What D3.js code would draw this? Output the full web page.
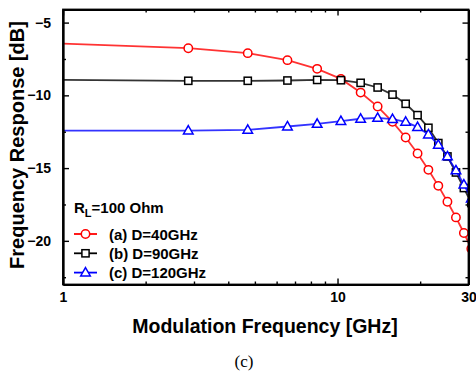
<!DOCTYPE html>
<html>
<head>
<meta charset="utf-8">
<script src="https://cdn.jsdelivr.net/npm/d3@7"></script>
<style>
  body { margin: 0; background: #fff; }
  svg { display: block; }
  .tk text { font-family: Arial, "Liberation Sans", sans-serif; font-weight: bold; font-size: 14px; fill: #000; }
  .tk path, .tk line { stroke: #000; }
</style>
</head>
<body>
<svg id="chart" width="476" height="375"></svg>
<script>
// modulation frequency in GHz (sampled every ~1.86 GHz)
let freq = [1, 2.86, 4.71, 6.57, 8.43, 10.29, 12.14, 14, 15.86, 17.71, 19.57, 21.43, 23.29, 25.14, 27, 28.86, 30.71];

// response in dB
let respA = [-6.44, -6.76, -7.10, -7.58, -8.18, -8.87, -9.81, -10.77, -11.82, -12.9, -14.0, -15.12, -16.22, -17.31, -18.39, -19.46, -20.55];
let respB = [-8.94, -9.0, -9.0, -8.98, -8.94, -8.96, -9.14, -9.46, -9.95, -10.58, -11.36, -12.23, -13.28, -14.2, -15.3, -16.37, -17.4];
let respC = [-12.42, -12.42, -12.37, -12.14, -11.96, -11.77, -11.61, -11.55, -11.63, -11.82, -12.18, -12.69, -13.4, -14.2, -15.16, -16.13, -17.1];

let seriesNames = ["(a) D=40GHz", "(b) D=90GHz", "(c) D=120GHz"];
let yTicks = [-5, -10, -15, -20];
let yMinor = [-7.5, -12.5, -17.5, -22.5];
let xTicks = [1, 10, 30];
let xMinor = [2, 3, 4, 5, 6, 7, 8, 9, 20];

let svg = d3.select("#chart");

let x = d3.scaleLog().domain([1, 30]).range([63, 468.5]);
let y = d3.scaleLinear().domain([-23, -4.1]).range([284.5, 9.5]);

let L = 63, R = 468.5, T = 9.5, B = 284.5;

// clip for plotted data
svg.append("clipPath").attr("id", "clip")
    .append("rect")
    .attr("x", L).attr("y", T)
    .attr("width", R - L).attr("height", B - T);

let series = [
    { name: seriesNames[0], vals: respA, color: "#ff0000", shape: "circle" },
    { name: seriesNames[1], vals: respB, color: "#000000", shape: "square" },
    { name: seriesNames[2], vals: respC, color: "#0000ff", shape: "triangle" }
];

function marker(g, shape, color) {
    if (shape == "circle") {
        g.append("circle").attr("r", 4.2);
    } else if (shape == "square") {
        g.append("rect").attr("x", -3.6).attr("y", -3.6).attr("width", 7.2).attr("height", 7.2);
    } else {
        g.append("path").attr("d", "M0,-5 L4.8,3.4 L-4.8,3.4 Z");
    }
    g.selectAll("*")
        .style("fill", "#fff")
        .style("stroke", color)
        .style("stroke-width", 1.5);
}

let line = d3.line()
    .x((d, i) => x(freq[i]))
    .y(d => y(d));

let plot = svg.append("g").attr("clip-path", "url(#clip)");

series.forEach(function(s) {
    plot.append("path")
        .attr("d", line(s.vals))
        .style("fill", "none")
        .style("stroke", s.color)
        .style("stroke-opacity", 0.8)
        .style("stroke-width", 1.8);

    s.vals.forEach(function(v, i) {
        if (i == 0) return;
        let g = plot.append("g")
            .attr("transform", `translate(${x(freq[i])}, ${y(v)})`);
        marker(g, s.shape, s.color);
    });
});

// axes, ticks pointing inward
function drawAxis(axis, tx, ty) {
    let g = svg.append("g")
        .attr("class", "tk")
        .attr("transform", `translate(${tx}, ${ty})`)
        .call(axis);
    g.select(".domain").style("stroke-width", 1.8);
    g.selectAll(".tick line").style("stroke-width", 1.4);
    return g;
}

drawAxis(d3.axisBottom(x).tickValues(xTicks).tickFormat(d3.format("d")).tickSizeInner(-6).tickSizeOuter(0).tickPadding(8), 0, B);
drawAxis(d3.axisBottom(x).tickValues(xMinor).tickFormat("").tickSizeInner(-3).tickSizeOuter(0), 0, B);
drawAxis(d3.axisTop(x).tickValues(xTicks).tickFormat("").tickSizeInner(-6).tickSizeOuter(0), 0, T);
drawAxis(d3.axisTop(x).tickValues(xMinor).tickFormat("").tickSizeInner(-3).tickSizeOuter(0), 0, T);

drawAxis(d3.axisLeft(y).tickValues(yTicks).tickFormat(d3.format("d")).tickSizeInner(-6).tickSizeOuter(0).tickPadding(12), L, 0);
drawAxis(d3.axisLeft(y).tickValues(yMinor).tickFormat("").tickSizeInner(-3).tickSizeOuter(0), L, 0);
drawAxis(d3.axisRight(y).tickValues(yTicks).tickFormat("").tickSizeInner(-6).tickSizeOuter(0), R, 0);
drawAxis(d3.axisRight(y).tickValues(yMinor).tickFormat("").tickSizeInner(-3).tickSizeOuter(0), R, 0);

// frame
svg.append("rect")
    .attr("x", L).attr("y", T)
    .attr("width", R - L).attr("height", B - T)
    .style("fill", "none")
    .style("stroke", "#000")
    .style("stroke-width", 1.8);

// axis titles
svg.append("text")
    .attr("x", 265).attr("y", 333)
    .attr("text-anchor", "middle")
    .style("font-family", "Arial, 'Liberation Sans', sans-serif")
    .style("font-weight", "bold")
    .style("font-size", "19.5px")
    .text("Modulation Frequency [GHz]");

svg.append("text")
    .attr("transform", "translate(24, 145) rotate(-90)")
    .attr("text-anchor", "middle")
    .style("font-family", "Arial, 'Liberation Sans', sans-serif")
    .style("font-weight", "bold")
    .style("font-size", "20px")
    .text("Frequency Response [dB]");

svg.append("text")
    .attr("x", 244).attr("y", 367)
    .attr("text-anchor", "middle")
    .style("font-family", "'Liberation Serif', 'Times New Roman', serif")
    .style("font-size", "17px")
    .text("(c)");

// legend
let leg = svg.append("g")
    .style("font-family", "Arial, 'Liberation Sans', sans-serif")
    .style("font-weight", "bold")
    .style("font-size", "15px");

let rl = leg.append("text").attr("x", 74).attr("y", 213);
rl.append("tspan").text("R");
rl.append("tspan").attr("dy", 4).style("font-size", "11px").text("L");
rl.append("tspan").attr("dy", -4).text("=100 Ohm");

series.forEach(function(s, i) {
    let ly = 234 + i * 19.3;
    leg.append("line")
        .attr("x1", 74).attr("x2", 97)
        .attr("y1", ly).attr("y2", ly)
        .style("stroke", s.color)
        .style("stroke-width", 1.8);
    let g = leg.append("g").attr("transform", `translate(85.5, ${ly})`);
    marker(g, s.shape, s.color);
    leg.append("text")
        .attr("x", 109).attr("y", ly + 5.5)
        .text(s.name);
});
</script>
</body>
</html>
